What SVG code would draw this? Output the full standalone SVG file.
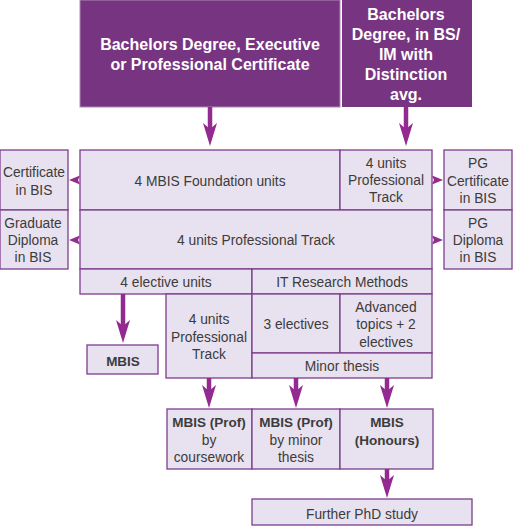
<svg xmlns="http://www.w3.org/2000/svg" width="513" height="526" viewBox="0 0 513 526">
<style>
.box{fill:#e8e1ef;stroke:#7d3c8c;stroke-width:1.3}
.top{fill:#773581}
.t{font-family:"Liberation Sans",Arial,sans-serif;font-size:13.8px;fill:#3c3c3c;text-anchor:middle}
.b{font-weight:bold;font-size:13.5px}
.w{font-family:"Liberation Sans",Arial,sans-serif;font-size:16px;font-weight:bold;fill:#ffffff;text-anchor:middle}
.arr{stroke:#922a8f;stroke-width:4.5;fill:none;marker-end:url(#ah)}
.sm{fill:#922a8f}
</style>
<defs>
<marker id="ah" markerUnits="userSpaceOnUse" markerWidth="24" markerHeight="16" viewBox="0 0 24 16" refX="14" refY="8" orient="auto">
<path d="M0,1 L23,8 L0,15 L6,8 Z" fill="#922a8f"/>
</marker>
</defs>

<g id="entry-bachelors">
<rect class="top" x="80" y="0" width="260" height="107" stroke="#a98bb0" stroke-width="1"/>
<text class="w" x="210" y="50">Bachelors Degree, Executive</text>
<text class="w" x="210" y="70">or Professional Certificate</text>
</g>
<g id="entry-distinction">
<rect class="top" x="342" y="0" width="130" height="107"/>
<text class="w" x="406" y="20">Bachelors</text>
<text class="w" x="406" y="40">Degree, in BS/</text>
<text class="w" x="406" y="60">IM with</text>
<text class="w" x="406" y="80">Distinction</text>
<text class="w" x="406" y="100">avg.</text>
</g>

<g id="foundation">
<rect class="box" x="80" y="150" width="260" height="60"/>
<text class="t" x="210" y="186">4 MBIS Foundation units</text>
</g>
<g id="prof-track-1">
<rect class="box" x="340" y="150" width="92" height="60"/>
<text class="t" x="386" y="168">4 units</text>
<text class="t" x="386" y="185">Professional</text>
<text class="t" x="386" y="202">Track</text>
</g>
<g id="cert-bis">
<rect class="box" x="0" y="150" width="68" height="60"/>
<text class="t" x="34" y="177">Certificate</text>
<text class="t" x="34" y="195">in BIS</text>
</g>
<g id="pg-cert">
<rect class="box" x="444" y="150" width="68" height="60"/>
<text class="t" x="478" y="168">PG</text>
<text class="t" x="478" y="186">Certificate</text>
<text class="t" x="478" y="203">in BIS</text>
</g>

<g id="grad-dip">
<rect class="box" x="0" y="210" width="68" height="59"/>
<text class="t" x="33" y="228">Graduate</text>
<text class="t" x="33" y="245">Diploma</text>
<text class="t" x="33" y="262">in BIS</text>
</g>
<g id="prof-track-2">
<rect class="box" x="80" y="210" width="352" height="59"/>
<text class="t" x="256" y="245">4 units Professional Track</text>
</g>
<g id="pg-dip">
<rect class="box" x="444" y="210" width="68" height="59"/>
<text class="t" x="478" y="228">PG</text>
<text class="t" x="478" y="245">Diploma</text>
<text class="t" x="478" y="262">in BIS</text>
</g>

<g id="elective-units">
<rect class="box" x="80" y="269" width="172" height="25"/>
<text class="t" x="166" y="287">4 elective units</text>
</g>
<g id="it-research">
<rect class="box" x="252" y="269" width="180" height="25"/>
<text class="t" x="342" y="287">IT Research Methods</text>
</g>
<g id="prof-track-3">
<rect class="box" x="166" y="294" width="86" height="84"/>
<text class="t" x="209" y="324">4 units</text>
<text class="t" x="209" y="341.5">Professional</text>
<text class="t" x="209" y="359">Track</text>
</g>
<g id="three-electives">
<rect class="box" x="252" y="294" width="88" height="59"/>
<text class="t" x="296" y="329">3 electives</text>
</g>
<g id="advanced-topics">
<rect class="box" x="340" y="294" width="92" height="59"/>
<text class="t" x="386" y="312">Advanced</text>
<text class="t" x="386" y="329">topics + 2</text>
<text class="t" x="386" y="347">electives</text>
</g>
<g id="minor-thesis">
<rect class="box" x="252" y="353" width="180" height="25"/>
<text class="t" x="342" y="371">Minor thesis</text>
</g>
<g id="mbis">
<rect class="box" x="87" y="345" width="71" height="29"/>
<text class="t b" x="123" y="366">MBIS</text>
</g>

<g id="mbis-prof-coursework">
<rect class="box" x="167" y="409" width="85" height="60"/>
<text class="t b" x="209" y="427">MBIS (Prof)</text>
<text class="t" x="209" y="445">by</text>
<text class="t" x="209" y="462">coursework</text>
</g>
<g id="mbis-prof-thesis">
<rect class="box" x="252" y="409" width="88" height="60"/>
<text class="t b" x="296" y="427">MBIS (Prof)</text>
<text class="t" x="296" y="445">by minor</text>
<text class="t" x="296" y="462">thesis</text>
</g>
<g id="mbis-honours">
<rect class="box" x="340" y="409" width="93" height="60"/>
<text class="t b" x="387" y="427">MBIS</text>
<text class="t b" x="387" y="445">(Honours)</text>
</g>
<g id="phd">
<rect class="box" x="252" y="499" width="220" height="26"/>
<text class="t" x="362" y="519">Further PhD study</text>
</g>

<g id="connectors">
<line class="arr" x1="210" y1="107" x2="210" y2="137"/>
<line class="arr" x1="406" y1="107" x2="406" y2="137"/>
<line class="arr" x1="123" y1="294" x2="123" y2="334"/>
<line class="arr" x1="209" y1="378" x2="209" y2="399"/>
<line class="arr" x1="296" y1="378" x2="296" y2="399"/>
<line class="arr" x1="387" y1="378" x2="387" y2="399"/>
<line class="arr" x1="387" y1="469" x2="387" y2="489"/>
<path class="sm" d="M69,180 L80,175.5 L78,180 L80,184.5 Z"/>
<path class="sm" d="M69,240 L80,235.5 L78,240 L80,244.5 Z"/>
<path class="sm" d="M443,180 L432,175.5 L434,180 L432,184.5 Z"/>
<path class="sm" d="M443,240 L432,235.5 L434,240 L432,244.5 Z"/>
</g>
</svg>
